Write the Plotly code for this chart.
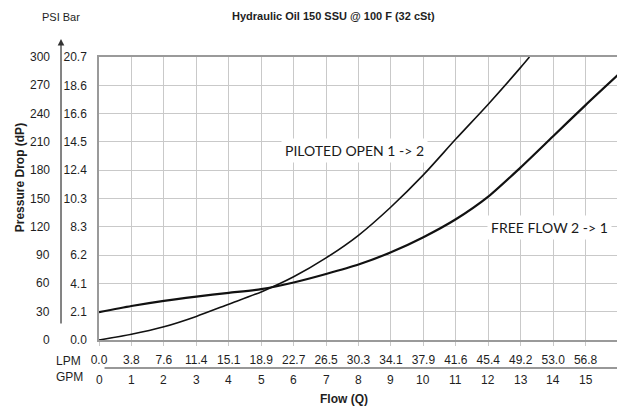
import plotly.graph_objects as go

# ---- data ----
gpm_piloted = [0, 1, 2, 3, 4, 5, 6, 7, 8, 9, 10, 11, 12, 13, 13.27]
psi_piloted = [0, 6, 14, 25, 38, 51, 67, 87, 111, 141, 175, 213, 250, 289, 300]

gpm_free = [0, 1, 2, 3, 4, 5, 6, 7, 8, 9, 10, 11, 12, 13, 14, 15, 16]
psi_free = [29.5, 36, 41.5, 46, 50, 54, 61, 70, 80, 93, 109, 128, 152, 183, 216, 249, 281]

psi_ticks = [0, 30, 60, 90, 120, 150, 180, 210, 240, 270, 300]
bar_labels = ["0.0", "2.1", "4.1", "6.2", "8.3", "10.3", "12.4", "14.5", "16.6", "18.6", "20.7"]

gpm_ticks = list(range(0, 17))
lpm_labels = ["0.0", "3.8", "7.6", "11.4", "15.1", "18.9", "22.7", "26.5", "30.3",
              "34.1", "37.9", "41.6", "45.4", "49.2", "53.0", "56.8", ""]
gpm_labels = [str(g) for g in range(0, 16)]

title = "Hydraulic Oil 150 SSU @ 100 F (32 cSt)"

FONT = "Liberation Sans, Arial, sans-serif"
TXT = "#1e1e1e"
GRID = "#c9c9c9"

fig = go.Figure()
fig.add_trace(go.Scatter(x=gpm_piloted, y=psi_piloted, mode="lines",
                         line=dict(color="#111111", width=1.6, shape="spline", smoothing=0.7),
                         hoverinfo="skip", showlegend=False))
fig.add_trace(go.Scatter(x=gpm_free, y=psi_free, mode="lines",
                         line=dict(color="#111111", width=2.2, shape="spline", smoothing=0.7),
                         hoverinfo="skip", showlegend=False))

# the page body adds an 8px offset, so the figure is 8px smaller on each origin side
fig.update_layout(
    width=617, height=398,
    margin=dict(l=91, r=7, t=49, b=66, autoexpand=False),
    paper_bgcolor="white", plot_bgcolor="white",
    font=dict(family=FONT, size=12, color=TXT),
    showlegend=False,
)

fig.update_xaxes(range=[0, 16], tickmode="array", tickvals=gpm_ticks, ticktext=lpm_labels,
                 showgrid=True, gridcolor=GRID, gridwidth=1, automargin=False,
                 showline=True, linecolor="#9a9a9a", linewidth=1.5, mirror=True,
                 ticks="outside", ticklen=4, tickcolor=GRID,
                 ticklabelstandoff=4, zeroline=False,
                 tickfont=dict(family=FONT, size=12, color=TXT))
fig.update_yaxes(range=[0, 300], tickmode="array", tickvals=psi_ticks, ticktext=bar_labels,
                 showgrid=True, gridcolor=GRID, gridwidth=1, automargin=False,
                 showline=True, linecolor="#9a9a9a", linewidth=1.5, mirror=True,
                 ticks="", ticklabelstandoff=8, zeroline=False,
                 tickfont=dict(family=FONT, size=12, color=TXT))

ann = []
# PSI column
for v in psi_ticks:
    ann.append(dict(x=-0.0906, xref="paper", y=v, yref="y", text=str(v), showarrow=False,
                    xanchor="right", yanchor="middle", font=dict(family=FONT, size=12, color=TXT)))
# GPM row
for i, g in enumerate(gpm_labels):
    ann.append(dict(x=i, xref="x", y=-0.1413, yref="paper", text=g, showarrow=False,
                    xanchor="center", yanchor="middle", font=dict(family=FONT, size=12, color=TXT)))

ann += [
    dict(x=-0.0597, xref="paper", y=-0.0742, yref="paper", text="LPM", showarrow=False,
         xanchor="center", yanchor="middle", font=dict(family=FONT, size=12, color=TXT)),
    dict(x=-0.0567, xref="paper", y=-0.1307, yref="paper", text="GPM", showarrow=False,
         xanchor="center", yanchor="middle", font=dict(family=FONT, size=12, color=TXT)),
    dict(x=0.472, xref="paper", y=-0.2085, yref="paper", text="<b>Flow (Q)</b>", showarrow=False,
         xanchor="center", yanchor="middle", font=dict(family=FONT, size=12, color=TXT)),
    dict(x=0.451, xref="paper", y=1.145, yref="paper", text="<b>" + title + "</b>", showarrow=False,
         xanchor="center", yanchor="middle", font=dict(family=FONT, size=11, color=TXT)),
    dict(x=-0.0732, xref="paper", y=1.141, yref="paper", text="PSI Bar", showarrow=False,
         xanchor="center", yanchor="middle", font=dict(family=FONT, size=11, color=TXT)),
    dict(x=-0.152, xref="paper", y=0.572, yref="paper", text="<b>Pressure Drop (dP)</b>",
         textangle=-90, showarrow=False, xanchor="center", yanchor="middle",
         font=dict(family=FONT, size=12, color=TXT)),
    # curve labels
    dict(x=7.89, xref="x", y=201, yref="y", text="PILOTED OPEN 1 -> 2", showarrow=False,
         xanchor="center", yanchor="middle", bgcolor="white", borderpad=3,
         font=dict(family="Lato, Carlito, sans-serif", size=14, color="#1a1a1a")),
    dict(x=13.89, xref="x", y=119.7, yref="y", text="FREE FLOW 2 -> 1", showarrow=False,
         xanchor="center", yanchor="middle", bgcolor="white", borderpad=3,
         font=dict(family="Lato, Carlito, sans-serif", size=14, color="#1a1a1a")),
    # axis arrows
    dict(x=-0.0732, xref="paper", y=1.0636, yref="paper", text="", showarrow=True,
         ax=0, ay=286, arrowhead=2, arrowsize=1.1, arrowwidth=1.2, arrowcolor="#333333"),
    dict(x=1.0116, xref="paper", y=-0.0989, yref="paper", text="", showarrow=True,
         ax=-521, ay=0, arrowhead=2, arrowsize=1.1, arrowwidth=1.2, arrowcolor="#333333"),
]
fig.update_layout(annotations=ann)

fig.write_html("out.html")
